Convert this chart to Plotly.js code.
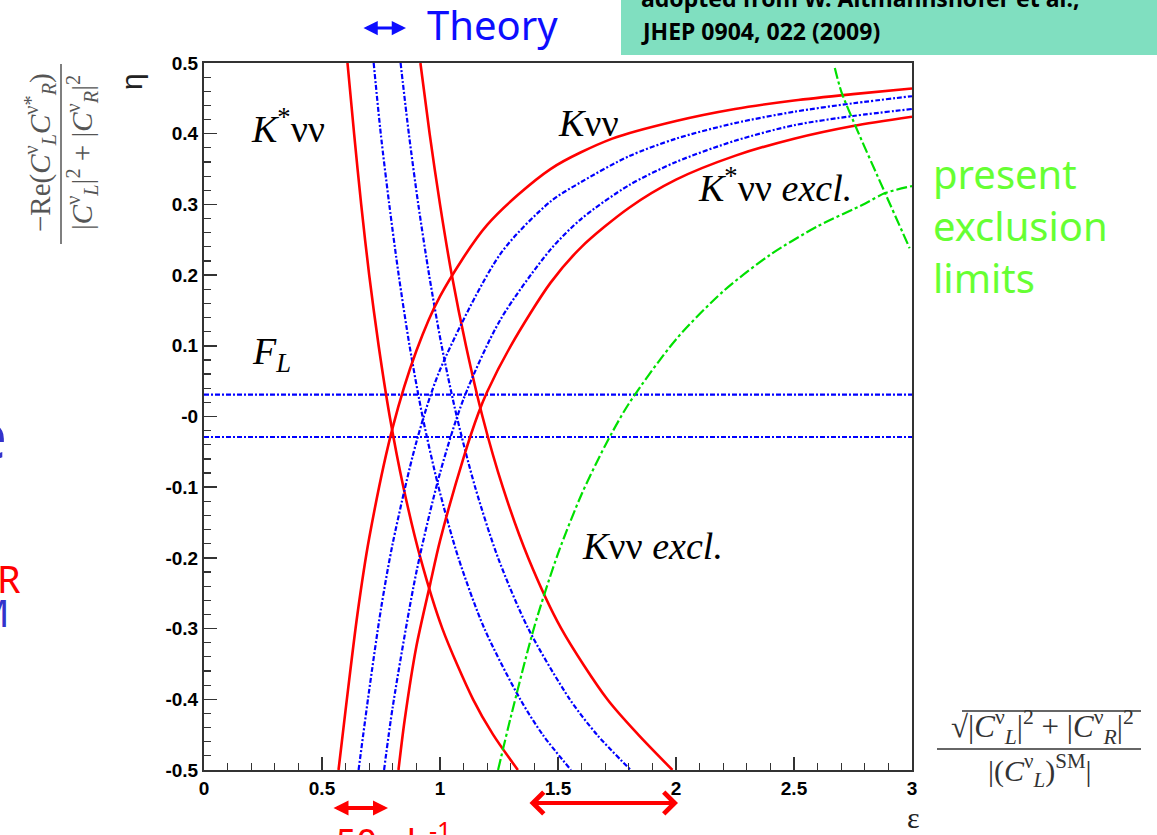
<!DOCTYPE html>
<html><head><meta charset="utf-8">
<script src="https://cdn.plot.ly/plotly-3.0.1.min.js"></script>
<style>html,body{margin:0;padding:0;background:#fff;}#chart{width:1157px;height:835px;}</style>
</head><body><div id="chart"></div>
<script>
// ---- data ----
// K*nunu constraint curves: epsilon at given eta
const etaKstar = [0.5, 0.4, 0.3, 0.2, 0.1, 0, -0.1, -0.2, -0.3, -0.4, -0.45, -0.5];
const epsKstarRedA  = [0.608, 0.636, 0.666, 0.700, 0.740, 0.787, 0.845, 0.917, 1.010, 1.140, 1.225, 1.330];
const epsKstarBlueA = [0.719, 0.749, 0.785, 0.825, 0.871, 0.926, 0.994, 1.078, 1.188, 1.340, 1.435, 1.555];
const epsKstarBlueB = [0.833, 0.868, 0.908, 0.954, 1.007, 1.071, 1.149, 1.246, 1.374, 1.550, 1.665, 1.808];
const epsKstarRedB  = [0.917, 0.956, 1.000, 1.050, 1.110, 1.180, 1.266, 1.374, 1.514, 1.709, 1.840, 1.985];

// Knunu constraint curves: eta at given epsilon
const epsKRedA  = [0.570, 0.60, 0.65, 0.70, 0.80, 0.90, 1.00, 1.20, 1.468, 1.73, 2.00, 2.25, 2.50, 2.75, 3.00];
const etaKRedA  = [-0.5, -0.415, -0.28, -0.172, -0.015, 0.093, 0.170, 0.271, 0.350, 0.393, 0.418, 0.435, 0.447, 0.456, 0.464];
const epsKBlueA = [0.655, 0.70, 0.75, 0.80, 0.90, 1.00, 1.256, 1.468, 1.60, 1.80, 2.00, 2.25, 2.50, 2.75, 3.00];
const etaKBlueA = [-0.5, -0.387, -0.272, -0.179, -0.036, 0.066, 0.230, 0.304, 0.332, 0.368, 0.393, 0.415, 0.431, 0.443, 0.453];
const epsKBlueB = [0.763, 0.80, 0.90, 1.00, 1.10, 1.256, 1.468, 1.60, 1.80, 2.00, 2.25, 2.50, 2.75, 3.00];
const etaKBlueB = [-0.5, -0.41, -0.22, -0.08, 0.025, 0.137, 0.236, 0.280, 0.327, 0.360, 0.390, 0.412, 0.425, 0.435];
const epsKRedB  = [0.824, 0.85, 0.90, 0.959, 1.00, 1.10, 1.163, 1.20, 1.30, 1.468, 1.60, 1.80, 2.00, 2.252, 2.50, 2.75, 3.00];
const etaKRedB  = [-0.5, -0.43, -0.325, -0.236, -0.176, -0.058, 0.005, 0.035, 0.100, 0.189, 0.240, 0.295, 0.335, 0.369, 0.393, 0.411, 0.424];

// present exclusion limits
const epsKExcl = [1.246, 1.30, 1.40, 1.50, 1.60, 1.70, 1.80, 2.00, 2.20, 2.40, 2.60, 2.80, 2.886, 3.00];
const etaKExcl = [-0.5, -0.425, -0.297, -0.194, -0.110, -0.041, 0.018, 0.109, 0.177, 0.229, 0.269, 0.301, 0.316, 0.326];
const etaKstarExcl = [0.493, 0.46, 0.412, 0.316, 0.238];
const epsKstarExcl = [2.673, 2.700, 2.759, 2.886, 2.990];

// F_L band
const epsFL = [0, 3];
const etaFLup = [0.031, 0.031];
const etaFLlo = [-0.029, -0.029];

const yTickVals = [-0.5, -0.4, -0.3, -0.2, -0.1, 0, 0.1, 0.2, 0.3, 0.4, 0.5];
const yTickText = ['-0.5', '-0.4', '-0.3', '-0.2', '-0.1', '-0', '0.1', '0.2', '0.3', '0.4', '0.5'];

// ---- styles ----
const RED = '#ff0000', BLUE = '#0000ff', GREEN = '#00e000';
const redLine = {color: RED, width: 2.6, shape: 'spline', smoothing: 0.8};
const blueLine = {color: BLUE, width: 2.2, dash: '5px,2px,2px,2px', shape: 'spline', smoothing: 0.8};
const greenLine = {color: GREEN, width: 2.2, dash: '11px,3px,3px,3px', shape: 'spline', smoothing: 0.8};

function tr(x, y, line) { return {x: x, y: y, mode: 'lines', line: line, hoverinfo: 'skip', type: 'scatter'}; }

const data = [
  tr(epsFL, etaFLup, Object.assign({}, blueLine, {shape: 'linear'})),
  tr(epsFL, etaFLlo, Object.assign({}, blueLine, {shape: 'linear'})),
  tr(epsKstarRedA, etaKstar, redLine),
  tr(epsKstarBlueA, etaKstar, blueLine),
  tr(epsKstarBlueB, etaKstar, blueLine),
  tr(epsKstarRedB, etaKstar, redLine),
  tr(epsKRedA, etaKRedA, redLine),
  tr(epsKBlueA, etaKBlueA, blueLine),
  tr(epsKBlueB, etaKBlueB, blueLine),
  tr(epsKRedB, etaKRedB, redLine),
  tr(epsKExcl, etaKExcl, greenLine),
  tr(epsKstarExcl, etaKstarExcl, greenLine)
];

// pixel -> paper helpers for layout items
const L = 204, T = 63, W = 708, H = 707;
const X = p => (p - L) / W;
const Y = p => (T + H - p) / H;

const SANS = 'Noto Sans, Liberation Sans, sans-serif';
const SERIF = 'Liberation Serif, DejaVu Serif, serif';
const ARIAL = 'Liberation Sans, Arial, sans-serif';

function txt(px, py, text, font, extra) {
  return Object.assign({xref: 'paper', yref: 'paper', x: X(px), y: Y(py), text: text, showarrow: false,
    xanchor: 'left', yanchor: 'middle', font: font}, extra || {});
}
function arrow(x1, x2, py, color, head, width, size) {
  return {xref: 'paper', yref: 'paper', x: X(x2), y: Y(py), ax: x1 - x2, ay: 0, axref: 'pixel', ayref: 'pixel',
    text: '', showarrow: true, arrowside: 'end+start', arrowhead: head, startarrowhead: head,
    arrowwidth: width, arrowsize: size, startarrowsize: size, arrowcolor: color};
}

const serifBlack = {family: SERIF, size: 38, color: '#000'};
const grayF = {family: SERIF, size: 29, color: '#555'};

const annotations = [
  // in-plot labels
  txt(249, 126, '<i>K</i><sup>*</sup>νν', serifBlack),
  txt(556, 123, '<i>K</i>νν', serifBlack),
  txt(696, 185, '<i>K</i><sup>*</sup>νν <i>excl.</i>', serifBlack),
  txt(250, 354, '<i>F<sub>L</sub></i>', serifBlack),
  txt(580, 546, '<i>K</i>νν <i>excl.</i>', serifBlack),
  // header items
  txt(425, 25, 'Theory', {family: SANS, size: 40, color: '#0d0dff'}),
  arrow(362, 406, 28, '#0d0dff', 2, 3, 0.95),
  txt(639, -2, 'adopted from W. Altmannshofer et al.,', {family: SANS, size: 23, color: '#000', weight: 'bold'}),
  txt(639, 31, 'JHEP 0904, 022 (2009)', {family: SANS, size: 23, color: '#000', weight: 'bold'}),
  // right side text
  txt(931, 226, 'present<br>exclusion<br>limits', {family: SANS, size: 40, color: '#66ff33'}, {align: 'left'}),
  // left cut-off slide text
  txt(9, 433, 'e', {family: SANS, size: 66, color: '#3333cc'}, {xanchor: 'right'}),
  txt(23, 578, 'R', {family: SANS, size: 38, color: '#ff0000'}, {xanchor: 'right'}),
  txt(11, 612, 'M', {family: SANS, size: 38, color: '#3333cc'}, {xanchor: 'right'}),
  // bottom red arrows and text
  arrow(332, 388, 808, RED, 2, 4, 0.75),
  arrow(528, 678, 803, RED, 4, 4, 1.05),
  txt(334, 811, '50 ab<sup>-1</sup>', {family: SANS, size: 36, color: RED}, {yanchor: 'top'}),
  // axis titles
  txt(131, 82, 'η', {family: ARIAL, size: 30, color: '#222'}, {xanchor: 'center', textangle: -90}),
  txt(914, 818, 'ε', {family: SERIF, size: 30, color: '#222'}, {xanchor: 'center'}),
  // left formula (rotated)
  txt(40, 153, '−Re(<i>C</i><sup>ν</sup><sub><i>L</i></sub><i>C</i><sup>ν*</sup><sub><i>R</i></sub>)', grayF, {xanchor: 'center', textangle: -90}),
  txt(82, 153, '|<i>C</i><sup>ν</sup><sub><i>L</i></sub>|<sup>2</sup> + |<i>C</i><sup>ν</sup><sub><i>R</i></sub>|<sup>2</sup>', grayF, {xanchor: 'center', textangle: -90}),
  // right-bottom formula
  txt(1042, 727, '√|<i>C</i><sup>ν</sup><sub><i>L</i></sub>|<sup>2</sup> + |<i>C</i><sup>ν</sup><sub><i>R</i></sub>|<sup>2</sup>', {family: SERIF, size: 31, color: '#333'}, {xanchor: 'center'}),
  txt(1040, 770, '|(<i>C</i><sup>ν</sup><sub><i>L</i></sub>)<sup>SM</sup>|', {family: SERIF, size: 30, color: '#333'}, {xanchor: 'center'})
];

const shapes = [
  {type: 'rect', xref: 'paper', yref: 'paper', x0: X(621), x1: X(1165), y0: Y(55), y1: Y(-5), fillcolor: '#80dfc0', line: {width: 0}, layer: 'below'},
  {type: 'line', xref: 'paper', yref: 'paper', x0: X(61), x1: X(61), y0: Y(64), y1: Y(244), line: {color: '#555', width: 1.5}},
  {type: 'line', xref: 'paper', yref: 'paper', x0: X(962), x1: X(1141), y0: Y(711), y1: Y(711), line: {color: '#333', width: 1.5}},
  {type: 'line', xref: 'paper', yref: 'paper', x0: X(937), x1: X(1141), y0: Y(749), y1: Y(749), line: {color: '#333', width: 1.5}}
];

const tickFont = {family: ARIAL, size: 19, color: '#000', weight: 'bold'};
const layout = {
  width: 1157, height: 835,
  margin: {l: L, r: 1157 - L - W, t: T, b: 835 - T - H, pad: 0},
  paper_bgcolor: '#fff', plot_bgcolor: '#fff',
  showlegend: false,
  xaxis: {range: [0, 3], tickmode: 'linear', tick0: 0, dtick: 0.5, ticks: 'inside', ticklen: 13, tickwidth: 1.5,
    tickcolor: '#333', showline: true, linecolor: '#333', linewidth: 2, mirror: true, showgrid: false, zeroline: false,
    tickfont: tickFont, minor: {tickmode: 'linear', tick0: 0, dtick: 0.1, ticks: 'inside', ticklen: 7, tickwidth: 1.2, tickcolor: '#333', showgrid: false},
    fixedrange: true},
  yaxis: {range: [-0.5, 0.5], tickmode: 'array', tickvals: yTickVals, ticktext: yTickText, ticks: 'inside', ticklen: 13, tickwidth: 1.5,
    tickcolor: '#333', showline: true, linecolor: '#333', linewidth: 2, mirror: true, showgrid: false, zeroline: false,
    tickfont: tickFont, minor: {tickmode: 'linear', tick0: 0, dtick: 0.02, ticks: 'inside', ticklen: 7, tickwidth: 1.2, tickcolor: '#333', showgrid: false},
    fixedrange: true},
  annotations: annotations,
  shapes: shapes
};

Plotly.newPlot('chart', data, layout, {displayModeBar: false, staticPlot: true});
</script></body></html>
